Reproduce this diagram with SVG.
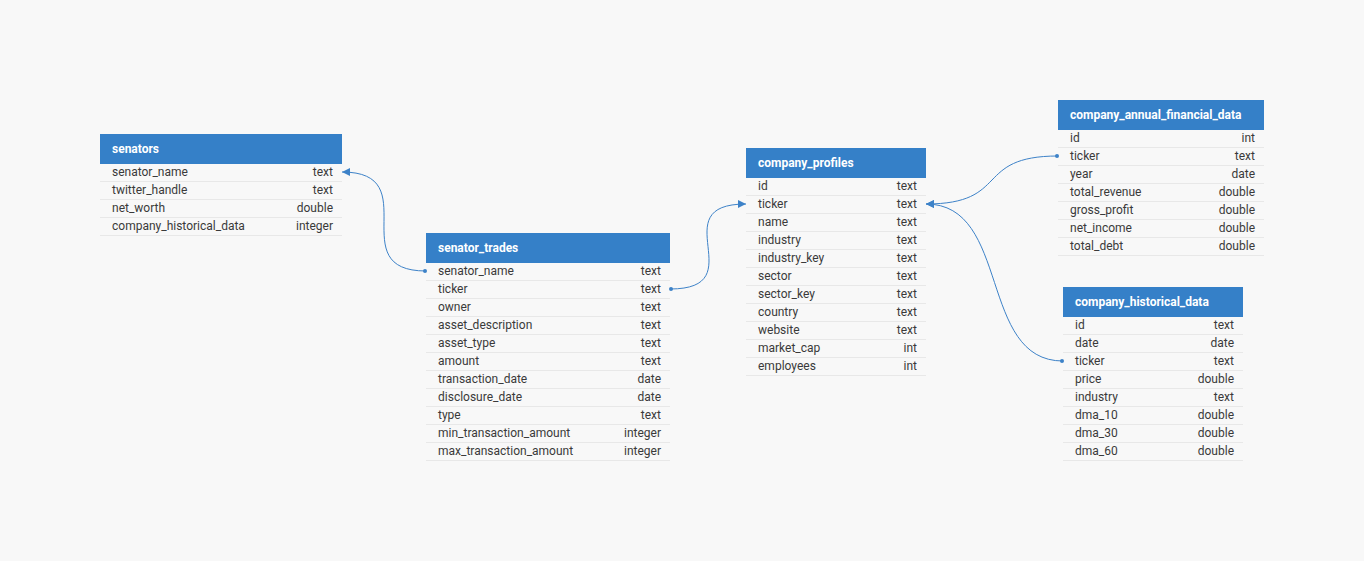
<svg xmlns="http://www.w3.org/2000/svg" width="1364" height="561" viewBox="0 0 1364 561">
<style>
.bg{fill:#f8f8f8}
.hd{fill:#3580c8}
.ht{font-family:Roboto,"Liberation Sans",sans-serif;font-size:12px;font-weight:bold;fill:#ffffff}
.c{font-family:Roboto,"Liberation Sans",sans-serif;font-size:12px;fill:#3a3a3a}
.t{font-family:Roboto,"Liberation Sans",sans-serif;font-size:12px;fill:#3a3a3a;text-anchor:end}
.sep{stroke:#e8e8e8;stroke-width:1}
.lk{fill:none;stroke:#3d82c8;stroke-width:1}
.dot{fill:#3d82c8}
</style>
<defs>
<marker id="arr" viewBox="0 0 10 10" refX="10" refY="5" markerWidth="8" markerHeight="8" markerUnits="userSpaceOnUse" orient="auto">
<path d="M0,0 L10,5 L0,10 Z" fill="#3d82c8"/>
</marker>
</defs>
<rect class="bg" x="0" y="0" width="1364" height="561"/>

<g id="connectors">
<path class="lk" d="M426,271 C341,271 427,172 342,172" marker-end="url(#arr)"/>
<circle class="dot" cx="425" cy="271" r="2"/>
<path class="lk" d="M670,289 C755,289 661,204 746,204" marker-end="url(#arr)"/>
<circle class="dot" cx="671" cy="289" r="2"/>
<path class="lk" d="M1058,156 C973,156 1011,204 926,204" marker-end="url(#arr)"/>
<circle class="dot" cx="1057" cy="156" r="2"/>
<path class="lk" d="M1063,361 C978,361 1011,204 926,204" marker-end="url(#arr)"/>
<circle class="dot" cx="1062" cy="361" r="2"/>
</g>

<g id="senators">
<rect class="hd" x="100" y="134" width="242" height="30"/>
<text class="ht" x="112" y="153">senators</text>
<text class="c" x="112" y="176">senator_name</text><text class="t" x="333" y="176">text</text>
<line class="sep" x1="100" y1="181.5" x2="342" y2="181.5"/>
<text class="c" x="112" y="194">twitter_handle</text><text class="t" x="333" y="194">text</text>
<line class="sep" x1="100" y1="199.5" x2="342" y2="199.5"/>
<text class="c" x="112" y="212">net_worth</text><text class="t" x="333" y="212">double</text>
<line class="sep" x1="100" y1="217.5" x2="342" y2="217.5"/>
<text class="c" x="112" y="230">company_historical_data</text><text class="t" x="333" y="230">integer</text>
<line class="sep" x1="100" y1="235.5" x2="342" y2="235.5"/>
</g>

<g id="senator_trades">
<rect class="hd" x="426" y="233" width="244" height="30"/>
<text class="ht" x="438" y="252">senator_trades</text>
<text class="c" x="438" y="275">senator_name</text><text class="t" x="661" y="275">text</text>
<line class="sep" x1="426" y1="280.5" x2="670" y2="280.5"/>
<text class="c" x="438" y="293">ticker</text><text class="t" x="661" y="293">text</text>
<line class="sep" x1="426" y1="298.5" x2="670" y2="298.5"/>
<text class="c" x="438" y="311">owner</text><text class="t" x="661" y="311">text</text>
<line class="sep" x1="426" y1="316.5" x2="670" y2="316.5"/>
<text class="c" x="438" y="329">asset_description</text><text class="t" x="661" y="329">text</text>
<line class="sep" x1="426" y1="334.5" x2="670" y2="334.5"/>
<text class="c" x="438" y="347">asset_type</text><text class="t" x="661" y="347">text</text>
<line class="sep" x1="426" y1="352.5" x2="670" y2="352.5"/>
<text class="c" x="438" y="365">amount</text><text class="t" x="661" y="365">text</text>
<line class="sep" x1="426" y1="370.5" x2="670" y2="370.5"/>
<text class="c" x="438" y="383">transaction_date</text><text class="t" x="661" y="383">date</text>
<line class="sep" x1="426" y1="388.5" x2="670" y2="388.5"/>
<text class="c" x="438" y="401">disclosure_date</text><text class="t" x="661" y="401">date</text>
<line class="sep" x1="426" y1="406.5" x2="670" y2="406.5"/>
<text class="c" x="438" y="419">type</text><text class="t" x="661" y="419">text</text>
<line class="sep" x1="426" y1="424.5" x2="670" y2="424.5"/>
<text class="c" x="438" y="437">min_transaction_amount</text><text class="t" x="661" y="437">integer</text>
<line class="sep" x1="426" y1="442.5" x2="670" y2="442.5"/>
<text class="c" x="438" y="455">max_transaction_amount</text><text class="t" x="661" y="455">integer</text>
<line class="sep" x1="426" y1="460.5" x2="670" y2="460.5"/>
</g>

<g id="company_profiles">
<rect class="hd" x="746" y="148" width="180" height="30"/>
<text class="ht" x="758" y="167">company_profiles</text>
<text class="c" x="758" y="190">id</text><text class="t" x="917" y="190">text</text>
<line class="sep" x1="746" y1="195.5" x2="926" y2="195.5"/>
<text class="c" x="758" y="208">ticker</text><text class="t" x="917" y="208">text</text>
<line class="sep" x1="746" y1="213.5" x2="926" y2="213.5"/>
<text class="c" x="758" y="226">name</text><text class="t" x="917" y="226">text</text>
<line class="sep" x1="746" y1="231.5" x2="926" y2="231.5"/>
<text class="c" x="758" y="244">industry</text><text class="t" x="917" y="244">text</text>
<line class="sep" x1="746" y1="249.5" x2="926" y2="249.5"/>
<text class="c" x="758" y="262">industry_key</text><text class="t" x="917" y="262">text</text>
<line class="sep" x1="746" y1="267.5" x2="926" y2="267.5"/>
<text class="c" x="758" y="280">sector</text><text class="t" x="917" y="280">text</text>
<line class="sep" x1="746" y1="285.5" x2="926" y2="285.5"/>
<text class="c" x="758" y="298">sector_key</text><text class="t" x="917" y="298">text</text>
<line class="sep" x1="746" y1="303.5" x2="926" y2="303.5"/>
<text class="c" x="758" y="316">country</text><text class="t" x="917" y="316">text</text>
<line class="sep" x1="746" y1="321.5" x2="926" y2="321.5"/>
<text class="c" x="758" y="334">website</text><text class="t" x="917" y="334">text</text>
<line class="sep" x1="746" y1="339.5" x2="926" y2="339.5"/>
<text class="c" x="758" y="352">market_cap</text><text class="t" x="917" y="352">int</text>
<line class="sep" x1="746" y1="357.5" x2="926" y2="357.5"/>
<text class="c" x="758" y="370">employees</text><text class="t" x="917" y="370">int</text>
<line class="sep" x1="746" y1="375.5" x2="926" y2="375.5"/>
</g>

<g id="company_annual_financial_data">
<rect class="hd" x="1058" y="100" width="206" height="30"/>
<text class="ht" x="1070" y="119">company_annual_financial_data</text>
<text class="c" x="1070" y="142">id</text><text class="t" x="1255" y="142">int</text>
<line class="sep" x1="1058" y1="147.5" x2="1264" y2="147.5"/>
<text class="c" x="1070" y="160">ticker</text><text class="t" x="1255" y="160">text</text>
<line class="sep" x1="1058" y1="165.5" x2="1264" y2="165.5"/>
<text class="c" x="1070" y="178">year</text><text class="t" x="1255" y="178">date</text>
<line class="sep" x1="1058" y1="183.5" x2="1264" y2="183.5"/>
<text class="c" x="1070" y="196">total_revenue</text><text class="t" x="1255" y="196">double</text>
<line class="sep" x1="1058" y1="201.5" x2="1264" y2="201.5"/>
<text class="c" x="1070" y="214">gross_profit</text><text class="t" x="1255" y="214">double</text>
<line class="sep" x1="1058" y1="219.5" x2="1264" y2="219.5"/>
<text class="c" x="1070" y="232">net_income</text><text class="t" x="1255" y="232">double</text>
<line class="sep" x1="1058" y1="237.5" x2="1264" y2="237.5"/>
<text class="c" x="1070" y="250">total_debt</text><text class="t" x="1255" y="250">double</text>
<line class="sep" x1="1058" y1="255.5" x2="1264" y2="255.5"/>
</g>

<g id="company_historical_data">
<rect class="hd" x="1063" y="287" width="180" height="30"/>
<text class="ht" x="1075" y="306">company_historical_data</text>
<text class="c" x="1075" y="329">id</text><text class="t" x="1234" y="329">text</text>
<line class="sep" x1="1063" y1="334.5" x2="1243" y2="334.5"/>
<text class="c" x="1075" y="347">date</text><text class="t" x="1234" y="347">date</text>
<line class="sep" x1="1063" y1="352.5" x2="1243" y2="352.5"/>
<text class="c" x="1075" y="365">ticker</text><text class="t" x="1234" y="365">text</text>
<line class="sep" x1="1063" y1="370.5" x2="1243" y2="370.5"/>
<text class="c" x="1075" y="383">price</text><text class="t" x="1234" y="383">double</text>
<line class="sep" x1="1063" y1="388.5" x2="1243" y2="388.5"/>
<text class="c" x="1075" y="401">industry</text><text class="t" x="1234" y="401">text</text>
<line class="sep" x1="1063" y1="406.5" x2="1243" y2="406.5"/>
<text class="c" x="1075" y="419">dma_10</text><text class="t" x="1234" y="419">double</text>
<line class="sep" x1="1063" y1="424.5" x2="1243" y2="424.5"/>
<text class="c" x="1075" y="437">dma_30</text><text class="t" x="1234" y="437">double</text>
<line class="sep" x1="1063" y1="442.5" x2="1243" y2="442.5"/>
<text class="c" x="1075" y="455">dma_60</text><text class="t" x="1234" y="455">double</text>
<line class="sep" x1="1063" y1="460.5" x2="1243" y2="460.5"/>
</g>
</svg>
